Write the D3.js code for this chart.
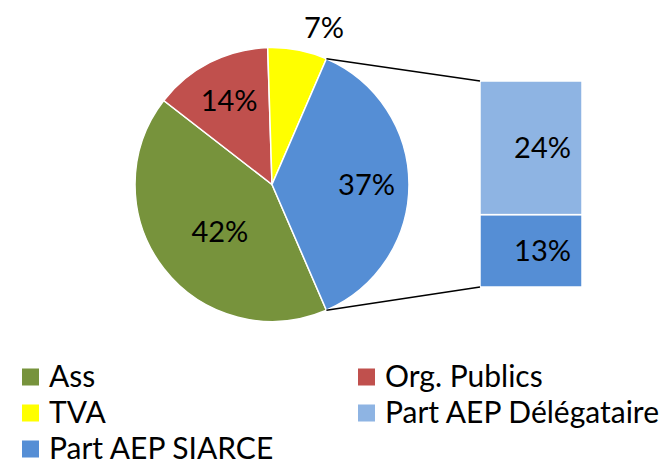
<!DOCTYPE html>
<html lang="fr">
<head>
<meta charset="UTF-8">
<title>Répartition</title>
<script src="https://d3js.org/d3.v7.min.js"></script>
<style>
  body { margin: 0; background: #fff; overflow: hidden; }
  svg text { font-family: Lato, "Open Sans", sans-serif; fill: #000; }
</style>
</head>
<body>
<div id="chart"></div>
<script>
// pie part: first three shares, the last one is split in the bar
var pieCats = ["Ass", "Org. Publics", "TVA"]
var pieVals = [42, 14, 7]
// bar part (bottom to top)
var barCats = ["Part AEP SIARCE", "Part AEP Délégataire"]
var barVals = [13, 24]
var legendOrder = ["Ass", "Org. Publics", "TVA", "Part AEP Délégataire", "Part AEP SIARCE"]

var colors = {
  "Ass": "#77933C",
  "Org. Publics": "#C0504D",
  "TVA": "#FFFF00",
  "Part AEP Délégataire": "#8EB4E3",
  "Part AEP SIARCE": "#558ED5"
}

var w = 669, h = 461
var cx = 272, cy = 184.5, r = 137

var svg = d3.select("#chart").append("svg").attr("width", w).attr("height", h)

var otherVal = d3.sum(barVals)
var total = d3.sum(pieVals) + otherVal
var slices = pieVals.map(function(v, i) { return {name: pieCats[i], value: v} })
slices.push({name: "Part AEP SIARCE", value: otherVal, other: true})

// other slice centred on the right side
var start = Math.PI / 2 + Math.PI * otherVal / total
var pie = d3.pie().sort(null).value(function(d) { return d.value })
  .startAngle(start).endAngle(start + 2 * Math.PI)
var arcs = pie(slices)
var arc = d3.arc().innerRadius(0).outerRadius(r)

var g = svg.append("g").attr("transform", "translate(" + cx + "," + cy + ")")
g.selectAll("path").data(arcs).enter().append("path")
  .attr("d", arc)
  .attr("fill", function(d) { return colors[d.data.name] })
  .attr("stroke", "#fff").attr("stroke-width", 1.5)

// label placement (radius factor, angle shift in degrees)
var labelPlace = [[0.51, -4], [0.69, 0], [1.21, 7.5], [0.69, 0]]
g.selectAll("text.lab").data(arcs).enter().append("text")
  .attr("class", "lab")
  .attr("x", function(d, i) {
    var a = (d.startAngle + d.endAngle) / 2 + labelPlace[i][1] * Math.PI / 180
    return Math.sin(a) * r * labelPlace[i][0]
  })
  .attr("y", function(d, i) {
    var a = (d.startAngle + d.endAngle) / 2 + labelPlace[i][1] * Math.PI / 180
    return -Math.cos(a) * r * labelPlace[i][0]
  })
  .attr("text-anchor", "middle").attr("dy", "0.36em")
  .style("font-size", "29px")
  .text(function(d) { return d.value + "%" })

// bar of the split slice
var bx = 480, bw = 102
var y = d3.scaleLinear().domain([0, otherVal]).range([287, 81])
var stack = []
var acc = 0
barVals.forEach(function(v, i) { stack.push({name: barCats[i], v0: acc, v1: acc + v, value: v}); acc += v })

svg.selectAll("rect.bar").data(stack).enter().append("rect")
  .attr("class", "bar")
  .attr("x", bx).attr("width", bw)
  .attr("y", function(d) { return y(d.v1) })
  .attr("height", function(d) { return y(d.v0) - y(d.v1) })
  .attr("fill", function(d) { return colors[d.name] })
  .attr("stroke", "#fff").attr("stroke-width", 1.5)

svg.selectAll("text.bl").data(stack).enter().append("text")
  .attr("class", "bl")
  .attr("x", bx + bw - 11)
  .attr("y", function(d) { return (y(d.v0) + y(d.v1)) / 2 })
  .attr("text-anchor", "end").attr("dy", "0.36em")
  .style("font-size", "29px")
  .text(function(d) { return d.value + "%" })

// connector lines (other slice starts at the top, ends at the bottom)
var o = arcs[3]
var pTop = [cx + Math.sin(o.startAngle) * r, cy - Math.cos(o.startAngle) * r]
var pBot = [cx + Math.sin(o.endAngle) * r, cy - Math.cos(o.endAngle) * r]
svg.append("line").attr("x1", pTop[0]).attr("y1", pTop[1]).attr("x2", bx).attr("y2", y(otherVal))
  .attr("stroke", "#000").attr("stroke-width", 1.5)
svg.append("line").attr("x1", pBot[0]).attr("y1", pBot[1]).attr("x2", bx).attr("y2", y(0))
  .attr("stroke", "#000").attr("stroke-width", 1.5)

// legend
var lg = svg.selectAll("g.leg").data(legendOrder).enter().append("g")
  .attr("class", "leg")
  .attr("transform", function(d, i) {
    return "translate(" + (i % 2 ? 358 : 22) + "," + (377 + Math.floor(i / 2) * 36) + ")"
  })
lg.append("rect").attr("x", 0).attr("y", -8.5).attr("width", 17).attr("height", 17)
  .attr("fill", function(d) { return colors[d] })
lg.append("text").attr("x", 27).attr("dy", "0.33em")
  .style("font-size", "30px")
  .text(function(d) { return d })
</script>
</body>
</html>
